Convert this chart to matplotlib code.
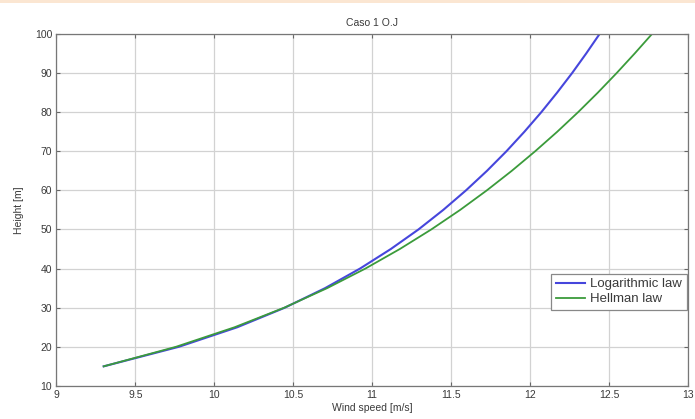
import matplotlib
matplotlib.use("Agg")
import matplotlib.pyplot as plt
from matplotlib.patches import Rectangle

heights = [15, 20, 25, 30, 35, 40, 45, 50, 55, 60, 65, 70, 75, 80, 85, 90, 95, 100]
log_speed = [9.300, 9.776, 10.146, 10.447, 10.702, 10.923, 11.118, 11.293, 11.450,
             11.594, 11.727, 11.850, 11.964, 12.071, 12.171, 12.266, 12.355, 12.440]
hellman_speed = [9.300, 9.758, 10.129, 10.443, 10.715, 10.957, 11.175, 11.374, 11.557,
                 11.726, 11.884, 12.032, 12.172, 12.304, 12.429, 12.548, 12.662, 12.772]

x_ticks = [9, 9.5, 10, 10.5, 11, 11.5, 12, 12.5, 13]
x_tick_labels = ["9", "9.5", "10", "10.5", "11", "11.5", "12", "12.5", "13"]
y_ticks = [10, 20, 30, 40, 50, 60, 70, 80, 90, 100]

plt.rcParams["font.family"] = ["Liberation Sans", "DejaVu Sans"]
TEXT = "#3a3a3a"

fig = plt.figure(figsize=(6.95, 4.19), dpi=100, facecolor="white")
# thin peach strip along the top edge of the picture
fig.patches.append(Rectangle((0, 0.992), 1, 0.008, transform=fig.transFigure,
                             facecolor="#fbe6d2", edgecolor="none"))

ax = fig.add_axes([0.081, 0.079, 0.909, 0.840])

ax.plot(log_speed, heights, color="#4646dc", lw=1.5, label="Logarithmic law")
ax.plot(hellman_speed, heights, color="#3b9b3b", lw=1.3, label="Hellman law")

ax.set_xlim(9, 13)
ax.set_ylim(10, 100)
ax.set_xticks(x_ticks)
ax.set_xticklabels(x_tick_labels)
ax.set_yticks(y_ticks)

ax.grid(True, color="#d2d2d2", linestyle="-", linewidth=0.9)
ax.tick_params(direction="in", length=3, top=True, right=True,
               labelsize=7.5, colors="#666666", labelcolor=TEXT, pad=3)
for s in ax.spines.values():
    s.set_color("#777777")
    s.set_linewidth(0.9)

ax.set_title("Caso 1 O.J", fontsize=7.5, color=TEXT, pad=6)
ax.set_xlabel("Wind speed [m/s]", fontsize=7.5, color=TEXT, labelpad=2)
ax.set_ylabel("Height [m]", fontsize=7.5, color=TEXT, labelpad=8)

leg = ax.legend(loc="lower right", bbox_to_anchor=(0.998, 0.216),
                borderaxespad=0, fontsize=9.5, fancybox=False, framealpha=1,
                edgecolor="#888888", handlelength=2.2, handletextpad=0.4,
                labelspacing=0.2, borderpad=0.35)
for t in leg.get_texts():
    t.set_color(TEXT)
leg.get_frame().set_linewidth(0.9)

fig.savefig("out.png", dpi=100, facecolor="white")
